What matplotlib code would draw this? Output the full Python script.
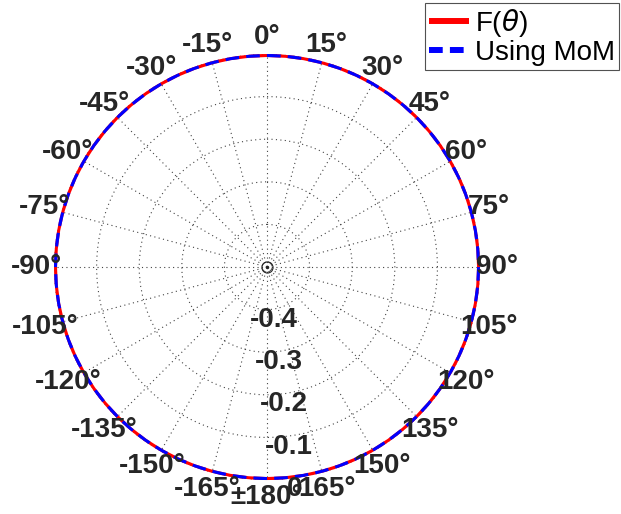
import numpy as np
import matplotlib

matplotlib.use("Agg")
import matplotlib.pyplot as plt

# pattern samples (normalised, flat at 0 everywhere)
theta_deg = list(range(0, 361, 5))
f_theta = [0.0] * len(theta_deg)
mom = [0.0] * len(theta_deg)

angle_ticks = list(range(-165, 181, 15))
angle_labels = [("±180°" if a == 180 else f"{a}°") for a in angle_ticks]
r_ticks = [-0.4, -0.3, -0.2, -0.1, 0.0]
r_labels = ["-0.4", "-0.3", "-0.2", "-0.1", "0"]
r_min, r_max = -0.5, 0.0

plt.rcParams["font.family"] = ["Liberation Sans", "DejaVu Sans"]
TXT = "#262626"

fig = plt.figure(figsize=(6.21, 5.14), dpi=100)
ax = fig.add_axes([0.087, 0.066, 0.686, 0.829], projection="polar")
ax.set_theta_zero_location("N")
ax.set_theta_direction(-1)

th = np.deg2rad(theta_deg)
ax.plot(th, f_theta, color="red", lw=4.3, label=r"F($\theta$)", solid_capstyle="butt")
ax.plot(th, mom, color="blue", lw=4.3, ls=(0, (2.3, 1.2)), label="Using MoM")

# small marks at the origin
ax.plot([0], [r_min], marker="o", ms=8, mfc="none", mec=TXT, mew=0.8)
ax.plot([0], [r_min], marker=".", ms=3, color=TXT)

ax.set_thetagrids([a % 360 for a in angle_ticks], labels=[""] * len(angle_ticks))
ax.set_rgrids(r_ticks, labels=[""] * len(r_ticks))
ax.set_xlim(0, 2 * np.pi)
ax.set_rlim(r_min, r_max)
ax.grid(True, color="#444444", linestyle=(0, (1, 3)), linewidth=0.8)
ax.spines["polar"].set_visible(False)
ax.tick_params(length=0)

for a, lab in zip(angle_ticks, angle_labels):
    ax.text(np.deg2rad(a % 360), 0.04, lab, ha="center", va="center",
            fontsize=20, fontweight="bold", color=TXT)

for r, lab in zip(r_ticks, r_labels):
    ax.text(np.deg2rad(173), r + 0.025, lab, ha="center", va="center",
            fontsize=20, fontweight="bold", color=TXT)

leg = fig.legend(loc="upper right", bbox_to_anchor=(0.997, 0.995), fontsize=20,
                 frameon=True, fancybox=False, edgecolor=TXT, handlelength=1.45,
                 handletextpad=0.2, borderpad=0.15, labelspacing=0.05, borderaxespad=0)
leg.get_frame().set_linewidth(0.8)

fig.savefig("out.png", dpi=100)
